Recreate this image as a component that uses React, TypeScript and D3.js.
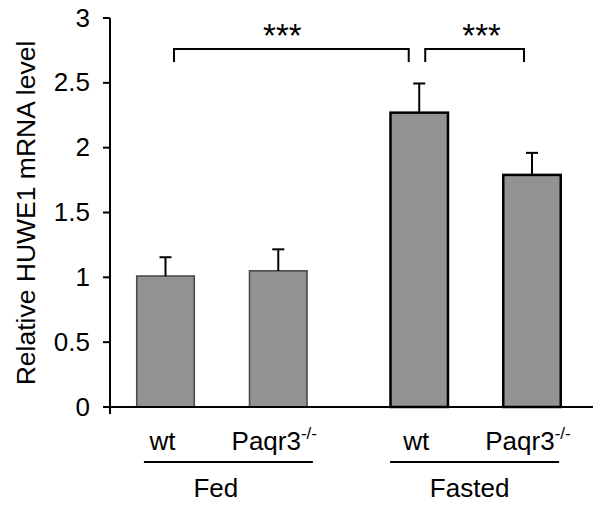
import React from 'react';
import * as d3 from 'd3';

// bar data
const barLabels = ['wt', 'Paqr3', 'wt', 'Paqr3'];
const barSup = ['', '-/-', '', '-/-'];
const barPos = [0, 1, 2.25, 3.25];
const means = [1.01, 1.05, 2.27, 1.79];
const errs = [0.145, 0.166, 0.225, 0.17];
const fasted = [false, false, true, true];

const groupNames = ['Fed', 'Fasted'];
const groupBars = [[0, 1], [2, 3]];

const yTicks = [0, 0.5, 1, 1.5, 2, 2.5, 3];

const comparisons = [[0, 2], [2, 3]];
const sigLabels = ['***', '***'];

const W = 593;
const H = 506;
const font = '"Liberation Sans", Arial, sans-serif';

const x = d3.scaleLinear().domain([0, 3.25]).range([165.5, 532]);
const y = d3.scaleLinear().domain([0, 3]).range([407, 18]);
const barW = 57.5;
const capW = 12;

const App = () => {
  const axisX = 110;
  return (
    <svg
      width={W}
      height={H}
      fontFamily={font}
      style={{ position: 'absolute', left: 0, top: 0, background: '#fff' }}
    >
      {/* bars */}
      {means.map((m, i) => (
        <rect
          key={'b' + i}
          x={x(barPos[i]) - barW / 2}
          y={y(m)}
          width={barW}
          height={y(0) - y(m)}
          fill="#929292"
          stroke={fasted[i] ? '#000' : '#4a4a4a'}
          strokeWidth={fasted[i] ? 2.5 : 1.6}
        />
      ))}

      {/* error bars */}
      {means.map((m, i) => (
        <g key={'e' + i} stroke="#000" strokeWidth={2}>
          <line x1={x(barPos[i])} x2={x(barPos[i])} y1={y(m)} y2={y(m + errs[i])} />
          <line x1={x(barPos[i]) - capW / 2} x2={x(barPos[i]) + capW / 2} y1={y(m + errs[i])} y2={y(m + errs[i])} />
        </g>
      ))}

      {/* axes */}
      <line x1={axisX} x2={axisX} y1={y(3)} y2={y(0) + 7} stroke="#000" strokeWidth={2} />
      <line x1={axisX - 7} x2={W} y1={y(0)} y2={y(0)} stroke="#000" strokeWidth={2} />
      {yTicks.map((t) => (
        <g key={'t' + t}>
          <line x1={axisX - 7} x2={axisX} y1={y(t)} y2={y(t)} stroke="#000" strokeWidth={2} />
          <text x={90} y={y(t) + 8.5} textAnchor="end" fontSize={26} fill="#000">
            {String(t)}
          </text>
        </g>
      ))}

      {/* y title */}
      <text
        transform="translate(35,213) rotate(-90)"
        textAnchor="middle"
        fontSize={26.5}
        fill="#000"
      >
        Relative HUWE1 mRNA level
      </text>

      {/* significance brackets */}
      {comparisons.map(([a, b], i) => {
        const x1 = x(barPos[a]) + (i === 0 ? 8.5 : 6);
        const x2 = x(barPos[b]) - (i === 0 ? 10.5 : 8);
        const yt = y(2.76);
        const yb = y(2.66);
        return (
          <g key={'c' + i}>
            <path d={`M${x1},${yb}V${yt}H${x2}V${yb}`} fill="none" stroke="#000" strokeWidth={2} />
            <text x={(x1 + x2) / 2 + (i === 0 ? -9 : 7)} y={47} textAnchor="middle" fontSize={33} fill="#000">
              {sigLabels[i]}
            </text>
          </g>
        );
      })}

      {/* bar labels */}
      {barLabels.map((l, i) => (
        <text
          key={'l' + i}
          x={x(barPos[i]) - (barSup[i] ? 4 : 3)}
          y={450}
          textAnchor="middle"
          fontSize={26}
          fill="#000"
        >
          {l}
          {barSup[i] && (
            <tspan fontSize={17} dy={-11}>
              {barSup[i]}
            </tspan>
          )}
        </text>
      ))}

      {/* group lines and names */}
      {groupBars.map((gb, i) => {
        const c = (x(barPos[gb[0]]) + x(barPos[gb[1]])) / 2;
        const off = i === 0 ? 6.5 : -1;
        return (
          <g key={'g' + i}>
            <line x1={c - 84.5 + off} x2={c + 84.5 + off} y1={462} y2={462} stroke="#000" strokeWidth={2} />
            <text x={c - 6} y={497} textAnchor="middle" fontSize={26} fill="#000">
              {groupNames[i]}
            </text>
          </g>
        );
      })}
    </svg>
  );
};

export default App;
